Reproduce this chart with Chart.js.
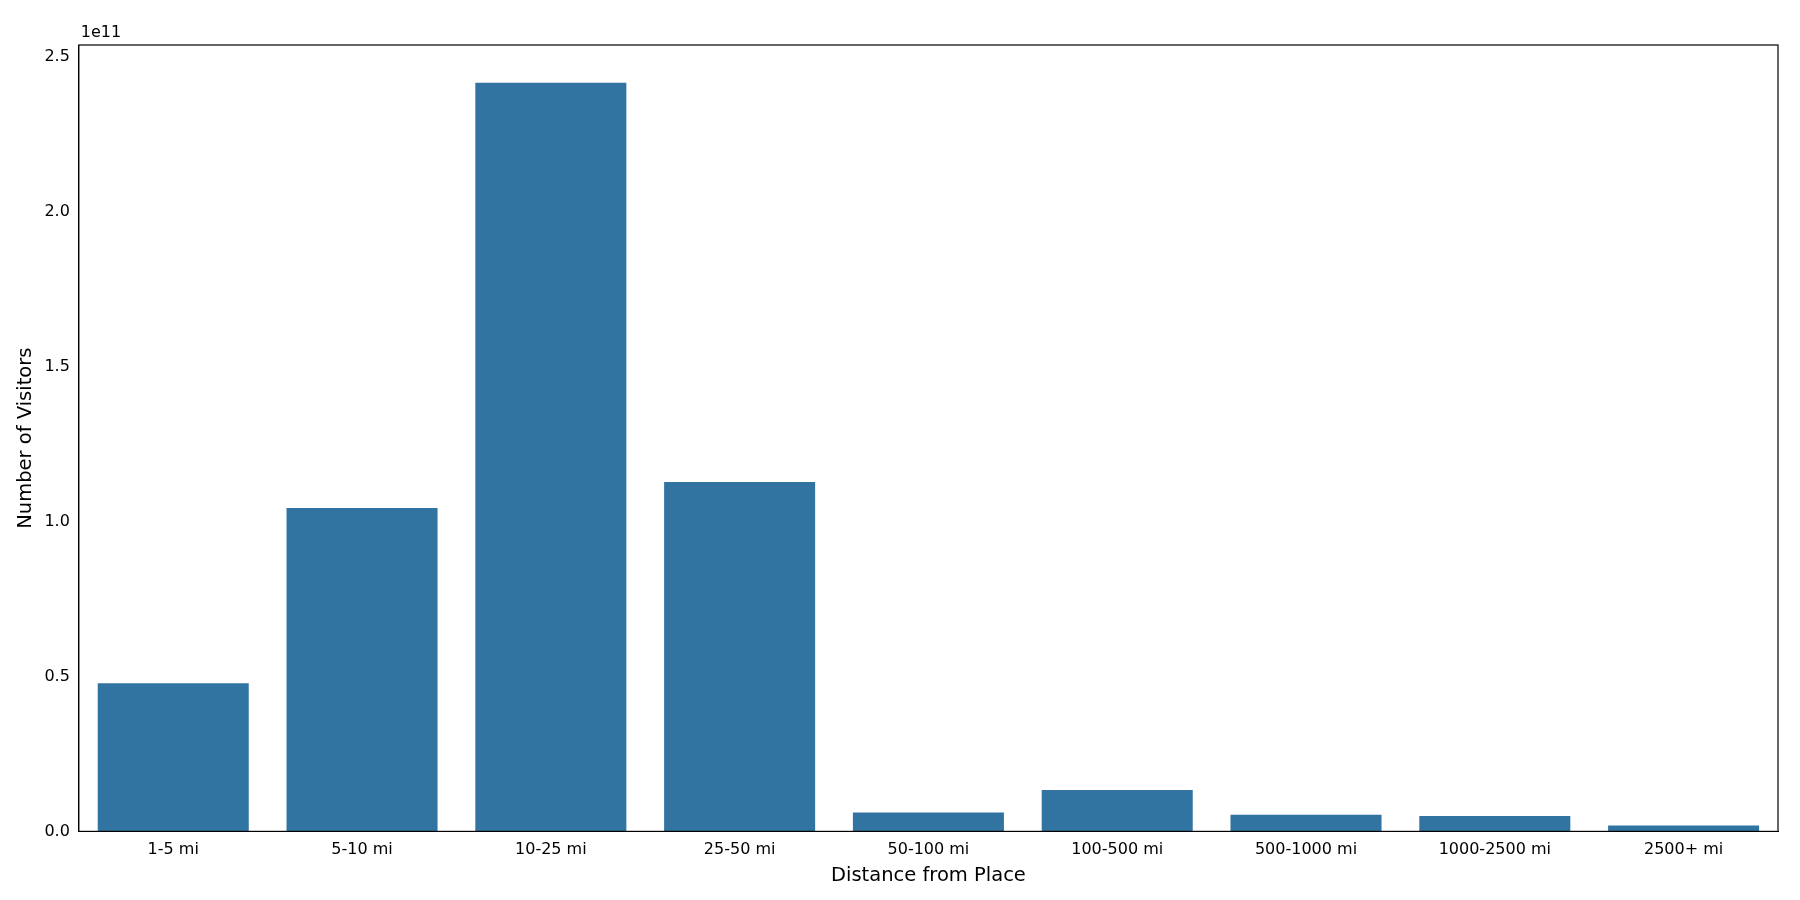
<!DOCTYPE html>
<html><head><meta charset="utf-8">
<script src="https://cdn.jsdelivr.net/npm/chart.js@4/dist/chart.umd.min.js"></script>
<style>html,body{margin:0;padding:0;background:#fff}#w{width:1800px;height:900px}</style>
</head><body><div id="w"><canvas id="c"></canvas></div>
<script>
const categories = ["1-5 mi","5-10 mi","10-25 mi","25-50 mi","50-100 mi","100-500 mi","500-1000 mi","1000-2500 mi","2500+ mi"];
const visitors = [4.78e10,1.044e11,2.417e11,1.128e11,6.1e9,1.34e10,5.4e9,5.0e9,1.9e9];
const yTicks = [0,0.5e11,1.0e11,1.5e11,2.0e11,2.5e11];
const F = "DejaVu Sans";
const offsetLabel = {id:'off',afterDraw(ch){const c=ch.ctx,a=ch.chartArea;c.save();c.font="16px "+F;c.fillStyle="#000";c.textBaseline="bottom";c.fillText("1e11",a.left+2,a.top-4);c.restore();}};
const frame = {id:'frame',afterDraw(ch){const c=ch.ctx,a=ch.chartArea;c.save();c.strokeStyle="#000";c.lineWidth=1.2;c.strokeRect(a.left,a.top,a.right-a.left,a.bottom-a.top);c.restore();}};
new Chart(document.getElementById('c'),{type:'bar',
data:{labels:categories,datasets:[{data:visitors,backgroundColor:'#3274a1',categoryPercentage:0.8,barPercentage:1}]},
plugins:[offsetLabel,frame],
options:{responsive:true,maintainAspectRatio:false,animation:false,
layout:{padding:{left:10,right:22,top:45,bottom:8}},
plugins:{legend:{display:false},tooltip:{enabled:false}},
scales:{
x:{grid:{display:false,drawTicks:true,tickLength:6},border:{color:'#000'},ticks:{color:'#000',font:{family:F,size:16}},
 title:{display:true,text:'Distance from Place',color:'#000',font:{family:F,size:19.5},padding:{top:2}}},
y:{min:0,max:2.539e11,afterBuildTicks(ax){ax.ticks=yTicks.map(v=>({value:v}));},
 grid:{display:false,tickLength:6},border:{color:'#000'},
 ticks:{color:'#000',font:{family:F,size:16},callback:v=>(v/1e11).toFixed(1)},
 title:{display:true,text:'Number of Visitors',color:'#000',font:{family:F,size:19.5}}}
}}});
</script></body></html>
